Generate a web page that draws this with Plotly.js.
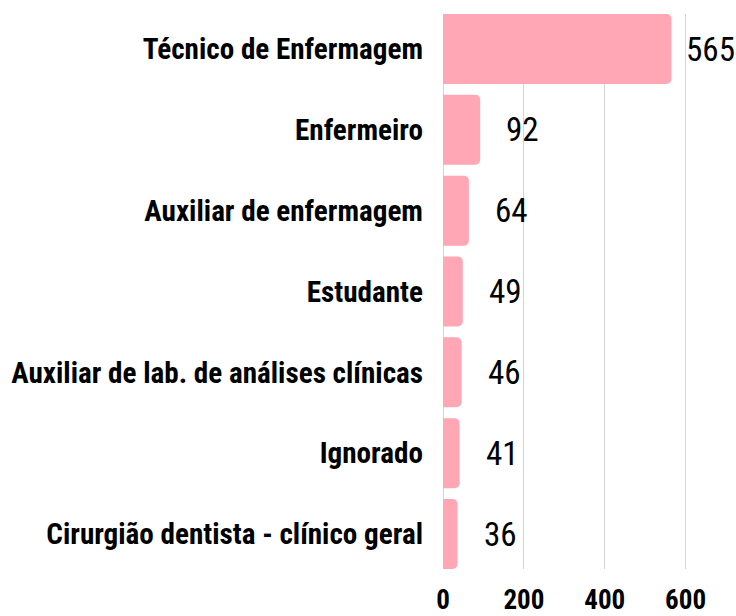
<!DOCTYPE html>
<html>
<head>
<meta charset="utf-8">
<script src="https://cdn.plot.ly/plotly-3.0.1.min.js"></script>
<style>
  html, body { margin: 0; padding: 0; background: #fff; }
  #chart { width: 736px; height: 616px; }
</style>
</head>
<body>
<div id="chart"></div>
<script>
var ocupacoes = [
  'Técnico de Enfermagem',
  'Enfermeiro',
  'Auxiliar de enfermagem',
  'Estudante',
  'Auxiliar de lab. de análises clínicas',
  'Ignorado',
  'Cirurgião dentista - clínico geral'
];
var casos = [565, 92, 64, 49, 46, 41, 36];
var xTicks = [0, 200, 400, 600];

// pick a condensed face if one is installed, and size text to the reference widths
var ctx = document.createElement('canvas').getContext('2d');
function textWidth(font, s) { ctx.font = font; return ctx.measureText(s).width; }
function installed(fam) {
  var s = 'Auxiliar de lab. 0123 WMmw';
  return textWidth('bold 40px monospace', s) !== textWidth("bold 40px '" + fam + "', monospace", s) ||
         textWidth('bold 40px serif', s) !== textWidth("bold 40px '" + fam + "', serif", s);
}
var candidates = ['Noto Sans ExtraCondensed', 'Noto Sans Condensed', 'Roboto Condensed',
                  'Liberation Sans Narrow', 'DejaVu Sans Condensed', 'Liberation Sans'];
var fam = 'Liberation Sans';
for (var i = 0; i < candidates.length; i++) {
  if (installed(candidates[i])) { fam = candidates[i]; break; }
}
var famCss = "'" + fam + "', sans-serif";

function fitSize(weight, s, target, maxSize) {
  var w = textWidth(weight + ' 100px ' + famCss, s);
  return Math.min(maxSize, 100 * target / w);
}
var catSize = fitSize('bold', 'Auxiliar de lab. de análises clínicas', 412, 31);
var tickSize = fitSize('bold', '200', 41, 31);
var valSize = fitSize('normal', '565', 49, 35);

var trace = {
  type: 'bar',
  orientation: 'h',
  x: casos,
  y: ocupacoes,
  marker: { color: '#ffa7b4', cornerradius: 5 },
  hoverinfo: 'x+y'
};

// value labels sit ~24px past the bar end, pulled back if they would leave the page
var plotLeft = 443, pxPerUnit = 0.405;
var annotations = casos.map(function (v, i) {
  var w = textWidth('normal ' + valSize + 'px ' + famCss, String(v));
  var end = plotLeft + v * pxPerUnit;
  var shift = Math.min(24, 733 - end - w);
  return {
    x: v,
    y: ocupacoes[i],
    text: String(v),
    showarrow: false,
    xanchor: 'left',
    xshift: shift,
    font: { family: famCss, size: valSize, color: '#000', weight: 'normal' }
  };
});

var layout = {
  width: 736,
  height: 616,
  margin: { l: 443, r: 10, t: 14, b: 47 },
  paper_bgcolor: '#fff',
  plot_bgcolor: '#fff',
  showlegend: false,
  bargap: 0.134,
  xaxis: {
    range: [0, 700],
    tickvals: xTicks,
    ticktext: xTicks.map(String),
    showgrid: true,
    gridcolor: '#d4d4d4',
    gridwidth: 1,
    zeroline: true,
    zerolinecolor: '#d4d4d4',
    zerolinewidth: 1,
    showline: false,
    ticks: '',
    ticklabelstandoff: 12,
    tickfont: { family: famCss, size: tickSize, color: '#000', weight: 'bold' }
  },
  yaxis: {
    type: 'category',
    categoryorder: 'array',
    categoryarray: ocupacoes,
    range: [6.433, -0.433],
    showgrid: false,
    zeroline: false,
    showline: false,
    ticks: '',
    ticklabelstandoff: 19,
    tickfont: { family: famCss, size: catSize, color: '#000', weight: 'bold' }
  },
  annotations: annotations
};

Plotly.newPlot('chart', [trace], layout, { displayModeBar: false, staticPlot: true });
</script>
</body>
</html>
